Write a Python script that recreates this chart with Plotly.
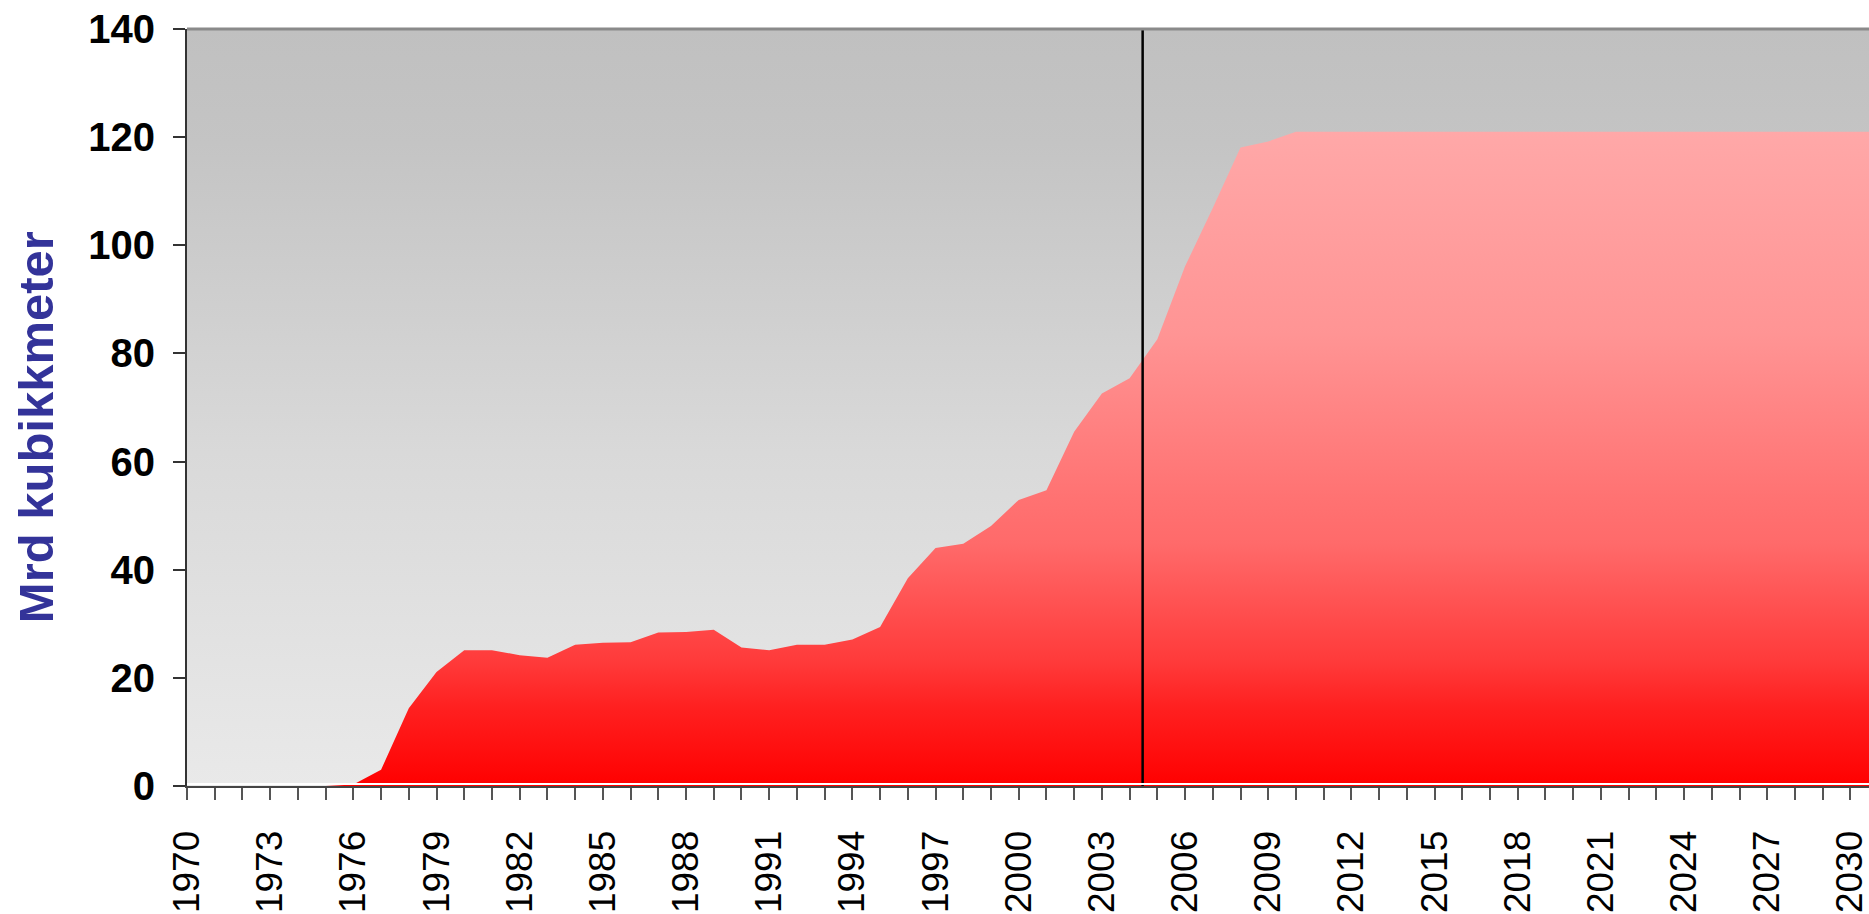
import plotly.graph_objects as go

years = list(range(1970, 2032))
values = [
    0, 0, 0, 0, 0, 0,                       # 1970-1975
    0.3, 3.0, 14.4, 21.1, 25.1,             # 1976-1980
    25.1, 24.2, 23.7, 26.1, 26.5,           # 1981-1985
    26.6, 28.4, 28.5, 28.9, 25.6,           # 1986-1990
    25.1, 26.1, 26.1, 27.1, 29.4,           # 1991-1995
    38.4, 44.0, 44.8, 48.1, 52.9,           # 1996-2000
    54.7, 65.5, 72.6, 75.4, 82.6,           # 2001-2005
    96.1, 106.9, 118.1, 119.2, 121.0,       # 2006-2010
    121.0, 121.0, 121.0, 121.0, 121.0,      # 2011-2015
    121.0, 121.0, 121.0, 121.0, 121.0,      # 2016-2020
    121.0, 121.0, 121.0, 121.0, 121.0,      # 2021-2025
    121.0, 121.0, 121.0, 121.0, 121.0,      # 2026-2030
    121.0,                                  # 2031
]
tick_years = list(range(1970, 2031, 3))
tick_labels = [str(y) for y in tick_years]
y_ticks = [0, 20, 40, 60, 80, 100, 120, 140]
divider_year = 2004.47
y_title = "Mrd kubikkmeter"

FONT = "Liberation Sans, Arial, sans-serif"

fig = go.Figure()

# plot-area background gradient
fig.add_trace(go.Scatter(
    x=[1969, 2032, 2032, 1969, 1969], y=[0, 0, 140, 140, 0],
    fill="toself", mode="lines", line=dict(width=0),
    fillgradient=dict(type="vertical",
                      colorscale=[[0, "#e9e9e9"], [0.44, "#d9d9d9"], [0.85, "#c4c4c4"], [1, "#c0c0c0"]]),
    hoverinfo="skip", showlegend=False,
))

fig.add_trace(go.Scatter(
    x=years, y=values, mode="lines", fill="tozeroy",
    line=dict(width=0, color="#ff6060"),
    fillgradient=dict(type="vertical",
                      colorscale=[[0, "#ff0000"], [0.12, "#ff2020"], [0.19, "#ff3a3a"],
                                  [0.37, "#ff6a6a"], [0.44, "#ff7272"], [0.69, "#ff9494"],
                                  [1, "#ffa8a8"]]),
    showlegend=False,
))

fig.add_shape(type="line", x0=divider_year, x1=divider_year, y0=0, y1=140,
              xref="x", yref="y", line=dict(color="black", width=2.5), layer="above")
# top border
fig.add_shape(type="line", x0=0, x1=1, y0=1, y1=1, xref="paper", yref="paper",
              line=dict(color="#8a8a8a", width=3), layer="above")
# thin white line above baseline
fig.add_shape(type="line", x0=1970, x1=2032, y0=0.35, y1=0.35, xref="x", yref="y",
              line=dict(color="white", width=2), layer="above")

fig.update_layout(
    width=1869, height=914,
    margin=dict(l=187, r=0, t=29, b=128),
    paper_bgcolor="white", plot_bgcolor="white",
    font=dict(family=FONT, color="black"),
    showlegend=False,
)

fig.update_xaxes(
    range=[1970, 2030.67], tickmode="array", tickvals=tick_years, ticktext=tick_labels,
    tickangle=-90, tickfont=dict(size=37, family=FONT, color="black"),
    ticks="outside", ticklen=12, tickwidth=2, tickcolor="#555555",
    minor=dict(dtick=1, tick0=1970, ticks="outside", ticklen=12, tickwidth=2, tickcolor="#555555"),
    showline=True, linecolor="#444444", linewidth=2,
    showgrid=False, zeroline=False, ticklabelstandoff=16, automargin=False,
    ticklabeloverflow="allow",
)
fig.update_yaxes(
    range=[0, 140], tickmode="array", tickvals=y_ticks,
    tickfont=dict(size=40, family=FONT, color="black", weight="bold"),
    ticks="outside", ticklen=12, tickwidth=2, tickcolor="#333333",
    showline=True, linecolor="#333333", linewidth=2,
    showgrid=False, zeroline=False, ticklabelstandoff=10, automargin=False,
    ticklabeloverflow="allow",
)

fig.add_annotation(
    text=y_title, xref="paper", yref="paper", x=0, y=0.474,
    xanchor="center", yanchor="middle", xshift=-151, textangle=-90, showarrow=False,
    font=dict(size=49, family=FONT, color="#333399", weight="bold"),
)

fig.write_html(
    "out.html",
    config={"displayModeBar": False},
    post_script="document.body.style.margin='0';document.body.style.overflow='hidden';",
)
